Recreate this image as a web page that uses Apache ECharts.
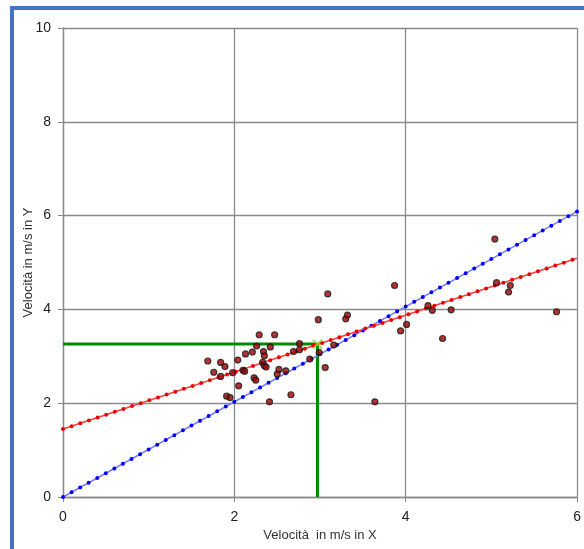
<!DOCTYPE html>
<html>
<head>
<meta charset="utf-8">
<script src="https://cdn.jsdelivr.net/npm/echarts@6/dist/echarts.min.js"></script>
<style>
  html, body { margin: 0; padding: 0; background: #fff; }
  #chart { width: 584px; height: 549px; }
</style>
</head>
<body>
<div id="chart"></div>
<script>
const points = [
  [3.09, 4.33], [2.98, 3.78], [3.30, 3.80], [3.32, 3.88], [2.29, 3.46],
  [2.47, 3.46], [2.26, 3.22], [2.42, 3.20], [2.76, 3.27], [2.69, 3.10],
  [2.76, 3.14], [2.34, 3.10], [2.13, 3.05], [2.21, 3.09], [2.35, 3.01],
  [2.99, 3.08], [3.16, 3.24], [2.88, 2.94], [3.06, 2.76], [1.69, 2.90],
  [1.84, 2.87], [1.89, 2.78], [2.04, 2.92], [2.33, 2.87], [2.35, 2.80],
  [2.37, 2.77], [1.76, 2.66], [1.98, 2.65], [2.10, 2.70], [2.12, 2.68],
  [2.52, 2.72], [2.50, 2.62], [2.60, 2.69], [1.84, 2.57], [2.23, 2.54],
  [2.25, 2.49], [2.05, 2.37], [1.91, 2.15], [1.95, 2.12], [2.66, 2.18],
  [2.41, 2.03], [3.64, 2.03], [5.04, 5.50], [3.87, 4.51], [5.06, 4.57],
  [5.22, 4.51], [5.20, 4.37], [4.26, 4.08], [4.31, 3.98], [4.53, 3.99],
  [5.76, 3.95], [4.01, 3.68], [3.94, 3.54], [4.43, 3.38]
];

// rette: regressione (rossa) e per l'origine (blu)
const redLine = [[0, 1.45], [6, 5.09]];
const blueLine = [[0, 0], [6, 6.09]];

// punto medio e linee verdi
const meanPoint = [2.97, 3.26];
const greenLine = [[0, meanPoint[1]], meanPoint, [meanPoint[0], 0]];

const xTicks = [0, 2, 4, 6];
const yTicks = [0, 2, 4, 6, 8, 10];

const FONT = "Liberation Sans, Arial, sans-serif";
const gridColor = "#8a8a8a";

const chart = echarts.init(document.getElementById("chart"));

const option = {
  animation: false,
  backgroundColor: "#fff",
  graphic: [
    {
      type: "rect",
      shape: { x: 12, y: 8, width: 620, height: 600 },
      style: { fill: "none", stroke: "#4472c4", lineWidth: 4 },
      silent: true
    }
  ],
  grid: { left: 63, right: 6, top: 28, bottom: 52 },
  xAxis: {
    type: "value",
    min: xTicks[0],
    max: xTicks[xTicks.length - 1],
    interval: 2,
    name: "Velocità  in m/s in X",
    nameLocation: "middle",
    nameGap: 32,
    nameMoveOverlap: false,
    nameTextStyle: { fontFamily: FONT, fontSize: 13, color: "#333" },
    axisLine: { lineStyle: { color: gridColor, width: 1.3 } },
    axisTick: { show: true, length: 5, lineStyle: { color: gridColor } },
    axisLabel: { fontFamily: FONT, fontSize: 14, color: "#222", margin: 13 },
    splitLine: { lineStyle: { color: gridColor, width: 1.3 } }
  },
  yAxis: {
    type: "value",
    min: yTicks[0],
    max: yTicks[yTicks.length - 1],
    interval: 2,
    name: "Velocità in m/s in Y",
    nameLocation: "middle",
    nameGap: 28,
    nameMoveOverlap: false,
    nameTextStyle: { fontFamily: FONT, fontSize: 13, color: "#333" },
    axisLine: { show: true, lineStyle: { color: gridColor, width: 1.3 } },
    axisTick: { show: true, length: 5, lineStyle: { color: gridColor } },
    axisLabel: { fontFamily: FONT, fontSize: 14, color: "#222", margin: 12 },
    splitLine: { lineStyle: { color: gridColor, width: 1.3 } }
  },
  series: [
    {
      type: "line",
      data: greenLine,
      symbol: "none",
      lineStyle: { color: "#008a00", width: 3 },
      z: 2
    },
    {
      type: "line",
      data: blueLine,
      symbol: "none",
      lineStyle: { color: "#7a7aff", width: 1.5 },
      z: 3
    },
    {
      type: "line",
      data: blueLine,
      symbol: "none",
      lineStyle: { color: "#0000ff", width: 4, type: [0, 9.8], cap: "round" },
      z: 3
    },
    {
      type: "line",
      data: redLine,
      symbol: "none",
      lineStyle: { color: "#ff4040", width: 1.5 },
      z: 3
    },
    {
      type: "line",
      data: redLine,
      symbol: "none",
      lineStyle: { color: "#ee0000", width: 4, type: [0, 9.1], cap: "round" },
      z: 3
    },
    {
      type: "scatter",
      data: points,
      symbol: "circle",
      symbolSize: 6,
      itemStyle: { color: "#a00000", borderColor: "#1a1a1a", borderWidth: 1.2 },
      z: 5
    },
    {
      type: "scatter",
      data: [meanPoint],
      symbol: "path://M0,0L10,10M10,0L0,10",
      symbolSize: 9,
      itemStyle: { color: "rgba(0,0,0,0)", borderColor: "#9acd32", borderWidth: 2 },
      z: 6
    }
  ]
};

chart.setOption(option);
</script>
</body>
</html>
